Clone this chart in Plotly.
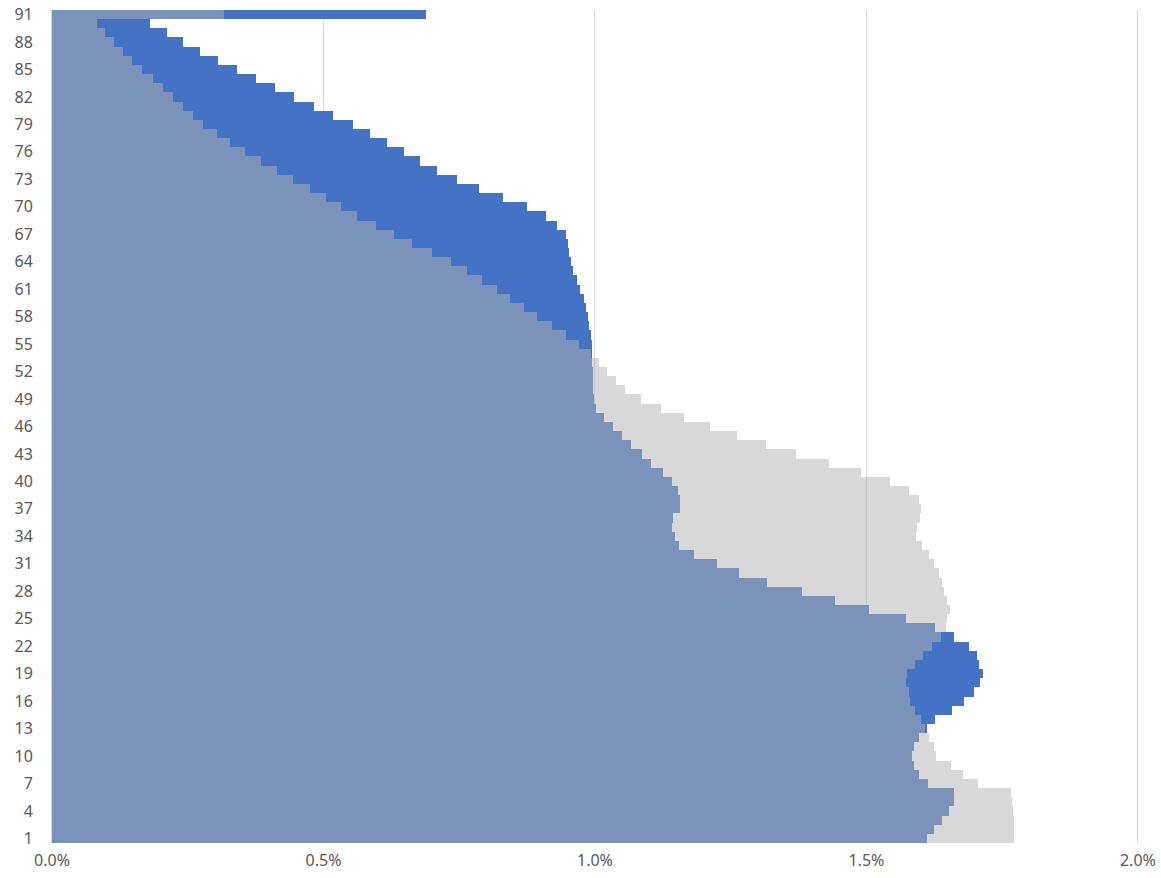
import plotly.graph_objects as go

ages = list(range(1, 92))

# Blue series (% of population), ages 1..91
blue_pct = [
    1.611, 1.624, 1.640, 1.652, 1.662, 1.661, 1.613, 1.597, 1.587, 1.583,   # 1-10
    1.587, 1.597, 1.612, 1.627, 1.658, 1.679, 1.699, 1.709, 1.714, 1.707,   # 11-20
    1.704, 1.689, 1.662, 1.627, 1.573, 1.504, 1.443, 1.382, 1.317, 1.265,   # 21-30
    1.225, 1.182, 1.154, 1.148, 1.142, 1.144, 1.156, 1.156, 1.153, 1.142,   # 31-40
    1.126, 1.104, 1.086, 1.067, 1.049, 1.034, 1.016, 1.001, 0.998, 0.997,   # 41-50
    0.996, 0.996, 0.995, 0.995, 0.994, 0.992, 0.989, 0.987, 0.984, 0.979,   # 51-60
    0.973, 0.966, 0.960, 0.955, 0.952, 0.950, 0.946, 0.930, 0.910, 0.875,   # 61-70
    0.831, 0.787, 0.745, 0.709, 0.677, 0.649, 0.617, 0.586, 0.554, 0.517,   # 71-80
    0.482, 0.445, 0.411, 0.376, 0.341, 0.306, 0.273, 0.242, 0.211, 0.181,   # 81-90
    0.689,                                                                  # 91
]

# Gray series (% of population), ages 1..91
gray_pct = [
    1.772, 1.772, 1.772, 1.770, 1.769, 1.767, 1.705, 1.678, 1.655, 1.629,   # 1-10
    1.624, 1.615, 1.607, 1.601, 1.590, 1.581, 1.578, 1.572, 1.575, 1.590,   # 11-20
    1.605, 1.621, 1.637, 1.646, 1.649, 1.654, 1.649, 1.643, 1.640, 1.633,   # 21-30
    1.624, 1.615, 1.603, 1.592, 1.594, 1.598, 1.600, 1.597, 1.579, 1.543,   # 31-40
    1.490, 1.431, 1.371, 1.315, 1.262, 1.212, 1.164, 1.121, 1.084, 1.056,   # 41-50
    1.038, 1.022, 1.007, 0.993, 0.971, 0.946, 0.920, 0.894, 0.869, 0.844,   # 51-60
    0.820, 0.792, 0.765, 0.734, 0.700, 0.663, 0.629, 0.596, 0.562, 0.532,   # 61-70
    0.504, 0.475, 0.444, 0.415, 0.384, 0.356, 0.328, 0.303, 0.279, 0.260,   # 71-80
    0.241, 0.223, 0.204, 0.186, 0.166, 0.147, 0.130, 0.114, 0.098, 0.083,   # 81-90
    0.316,                                                                  # 91
]

y_ticks = list(range(1, 92, 3))
x_ticks = [0.0, 0.5, 1.0, 1.5, 2.0]
x_tick_labels = ["0.0%", "0.5%", "1.0%", "1.5%", "2.0%"]

fig = go.Figure()
fig.add_trace(go.Bar(
    y=ages, x=blue_pct, orientation="h",
    marker=dict(color="#4472C4", line=dict(width=0)),
    name="Blue",
))
fig.add_trace(go.Bar(
    y=ages, x=gray_pct, orientation="h",
    marker=dict(color="rgba(177,177,177,0.5)", line=dict(width=0)),
    name="Gray",
))

font = dict(family="Noto Sans, Open Sans, sans-serif", size=16, color="#595959")

fig.update_layout(
    barmode="overlay",
    bargap=0,
    showlegend=False,
    width=1161, height=878,
    margin=dict(l=52, r=22, t=10, b=35),
    paper_bgcolor="white",
    plot_bgcolor="white",
    font=font,
    xaxis=dict(
        range=[0, 2.002],
        tickvals=x_ticks,
        ticktext=x_tick_labels,
        showgrid=True,
        gridcolor="#D9D9D9",
        gridwidth=1,
        zeroline=False,
        showline=False,
        ticks="",
        ticklabelstandoff=6,
        tickfont=font,
        automargin=False,
    ),
    yaxis=dict(
        range=[0.5, 91.5],
        tickvals=y_ticks,
        showgrid=False,
        zeroline=False,
        showline=True,
        linecolor="#D9D9D9",
        linewidth=1,
        ticks="",
        ticklabelstandoff=15,
        tickfont=font,
        automargin=False,
    ),
)

fig.write_html(
    "out.html",
    config={"displayModeBar": False},
    post_script="document.body.style.margin='0';document.body.style.overflow='hidden';",
)
